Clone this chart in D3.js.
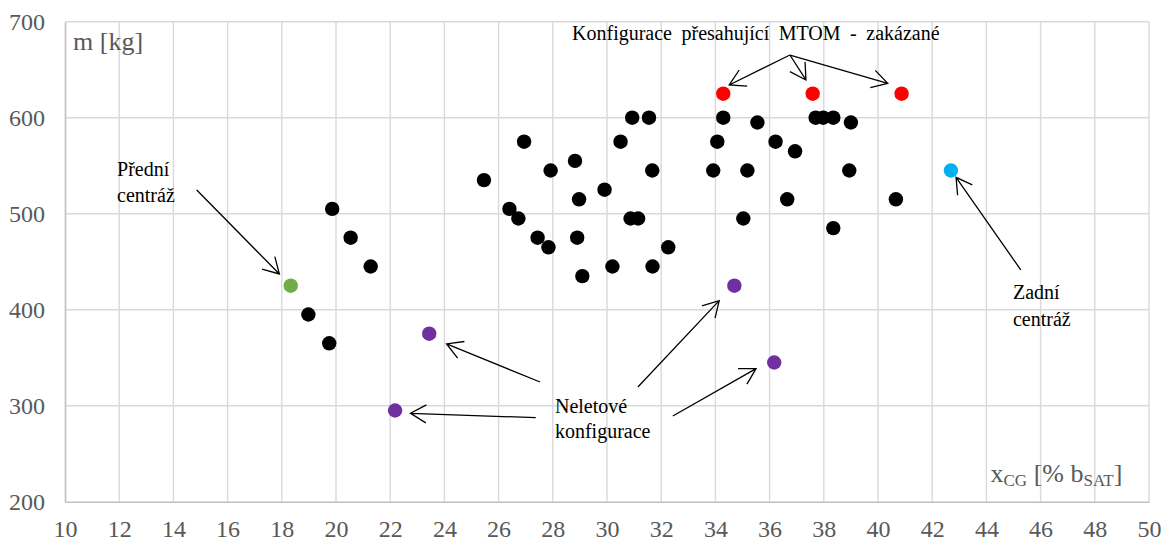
<!DOCTYPE html>
<html>
<head>
<meta charset="utf-8">
<script src="https://cdn.jsdelivr.net/npm/d3@7"></script>
<style>
  html, body { margin: 0; padding: 0; background: #fff; }
  svg { display: block; }
  text { font-family: "Liberation Serif", "Times New Roman", serif; }
</style>
</head>
<body>
<svg id="chart" width="1167" height="542"></svg>
<script>
// Centre-of-gravity position [% b_SAT] and mass [kg] for each load configuration
const allowedX = [19.86, 20.54, 21.28, 18.98, 19.75, 30.93, 31.55, 34.29, 35.55, 26.94, 30.50, 34.07,
                  36.22, 36.94, 25.46, 27.92, 28.82, 31.67, 33.92, 35.18, 36.65, 28.97, 29.91, 37.70,
                  37.98, 38.35, 39.00, 38.94, 40.66, 38.35, 26.40, 26.73, 27.44, 27.84, 28.90, 29.09,
                  30.20, 30.87, 31.15, 31.68, 32.26, 35.03];
const allowedM = [505, 475, 445, 395, 365, 600, 600, 600, 595, 575, 575, 575,
                  575, 565, 535, 545, 555, 545, 545, 545, 515, 515, 525, 600,
                  600, 600, 595, 545, 515, 485, 505, 495, 475, 465, 475, 435,
                  445, 495, 495, 445, 465, 495];
const overMtomX = [34.29, 37.59, 40.87];
const overMtomM = [625, 625, 625];
const forwardX = [18.33];
const forwardM = [425];
const aftX = [42.69];
const aftM = [545];
const nonFlyingX = [34.70, 23.44, 36.17, 22.18];
const nonFlyingM = [425, 375, 345, 295];

const xTicks = d3.range(10, 51, 2);
const yTicks = [200, 300, 400, 500, 600, 700];

const svg = d3.select("#chart");
const margin = { left: 65, right: 18, top: 21.7, bottom: 40.3 };
const W = 1167, H = 542;
const serif = '"Liberation Serif", "Times New Roman", serif';

const x = d3.scaleLinear().domain([10, 50]).range([margin.left, W - margin.right]);
const y = d3.scaleLinear().domain([200, 700]).range([H - margin.bottom, margin.top]);

// Grid
const grid = svg.append("g");
grid.selectAll("line.v").data(xTicks.slice(1)).enter().append("line")
  .attr("x1", d => x(d)).attr("x2", d => x(d))
  .attr("y1", y(200)).attr("y2", y(700))
  .attr("stroke", "#d9d9d9").attr("stroke-width", 1.4);
grid.selectAll("line.h").data(yTicks.slice(1)).enter().append("line")
  .attr("x1", x(10)).attr("x2", x(50))
  .attr("y1", d => y(d)).attr("y2", d => y(d))
  .attr("stroke", "#d9d9d9").attr("stroke-width", 1.4);

// Axes
const xAxis = svg.append("g").attr("transform", `translate(0,${y(200)})`)
  .call(d3.axisBottom(x).tickValues(xTicks).tickSize(0).tickPadding(18.5));
const yAxis = svg.append("g").attr("transform", `translate(${x(10)},0)`)
  .call(d3.axisLeft(y).tickValues(yTicks).tickSize(0).tickPadding(20));
[xAxis, yAxis].forEach(a => {
  a.attr("font-family", serif);
  a.select(".domain").attr("stroke", "#bfbfbf").attr("stroke-width", 1.6);
  a.selectAll("text").attr("fill", "#595959")
    .style("font-family", serif).style("font-size", "24px");
});

// Axis titles
svg.append("text").attr("x", x(10) + 8).attr("y", 50)
  .attr("fill", "#595959").style("font-size", "26px").text("m [kg]");
const xt = svg.append("text").attr("x", 990.5).attr("y", 481.7)
  .attr("fill", "#595959").style("font-size", "26px");
xt.append("tspan").text("x");
xt.append("tspan").attr("dy", 4.5).style("font-size", "17px").text("CG");
xt.append("tspan").attr("dy", -4.5).text(" [% b");
xt.append("tspan").attr("dy", 4.5).style("font-size", "17px").text("SAT");
xt.append("tspan").attr("dy", -4.5).text("]");

// Points
function series(xs, ms, colour) {
  svg.append("g").selectAll("circle").data(xs.map((v, i) => [v, ms[i]])).enter()
    .append("circle")
    .attr("cx", d => x(d[0])).attr("cy", d => y(d[1])).attr("r", 7.2)
    .attr("fill", colour);
}
series(allowedX, allowedM, "#000000");
series(overMtomX, overMtomM, "#ff0000");
series(forwardX, forwardM, "#70ad47");
series(aftX, aftM, "#00b0f0");
series(nonFlyingX, nonFlyingM, "#7030a0");

// Annotation arrows (data coordinates: start -> tip)
const arrows = [
  [[14.86, 524.7], [17.91, 437.2]],
  [[45.27, 441.4], [42.88, 537.9]],
  [[27.53, 324.7], [24.08, 364.3]],
  [[27.37, 287.5], [22.75, 292.1]],
  [[31.14, 319.5], [34.14, 409.4]],
  [[32.43, 289.3], [35.50, 338.6]],
  [[36.75, 665.3], [34.51, 634.1]],
  [[36.75, 665.3], [37.34, 639.3]],
  [[36.75, 665.3], [40.36, 635.8]]
];
const ag = svg.append("g").attr("stroke", "#000").attr("stroke-width", 1.3).attr("fill", "none");
arrows.forEach(([s, t]) => {
  const x0 = x(s[0]), y0 = y(s[1]), x1 = x(t[0]), y1 = y(t[1]);
  const ang = Math.atan2(y1 - y0, x1 - x0);
  const L = 18, a = Math.PI / 6;
  const p1 = [x1 - L * Math.cos(ang - a), y1 - L * Math.sin(ang - a)];
  const p2 = [x1 - L * Math.cos(ang + a), y1 - L * Math.sin(ang + a)];
  ag.append("path").attr("d", `M${x0},${y0}L${x1},${y1}M${p1[0]},${p1[1]}L${x1},${y1}L${p2[0]},${p2[1]}`);
});

// Annotation labels
const labels = [
  { x: 11.92, m: 539.3, t: "Přední" },
  { x: 11.92, m: 512.5, t: "centráž" },
  { x: 44.98, m: 411.1, t: "Zadní" },
  { x: 44.98, m: 383.3, t: "centráž" },
  { x: 28.08, m: 292.4, t: "Neletové" },
  { x: 28.08, m: 266.4, t: "konfigurace" },
  { x: 28.71, m: 680.9, t: "Konfigurace přesahující MTOM - zakázané" }
];
svg.append("g").selectAll("text").data(labels).enter().append("text")
  .attr("x", d => x(d.x)).attr("y", d => y(d.m))
  .attr("fill", "#000").style("font-size", "20px")
  .style("word-spacing", d => d.t.length > 20 ? "4.5px" : "0px")
  .text(d => d.t);
</script>
</body>
</html>
